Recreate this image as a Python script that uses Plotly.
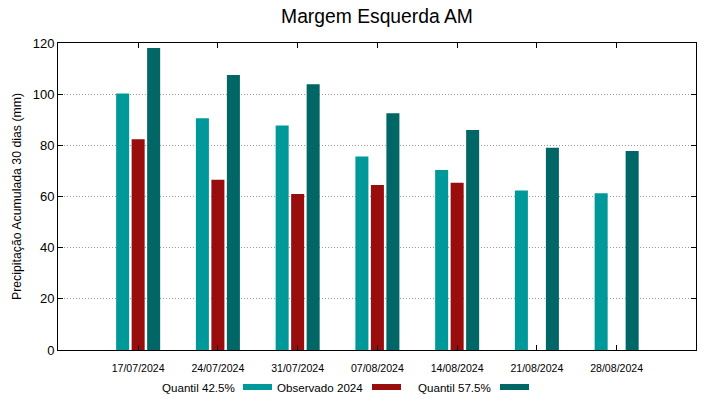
import plotly.graph_objects as go

dates = ["17/07/2024", "24/07/2024", "31/07/2024", "07/08/2024", "14/08/2024", "21/08/2024", "28/08/2024"]
q425 = [100.3, 90.6, 87.8, 75.6, 70.4, 62.3, 61.3]
obs2024 = [82.4, 66.5, 61.0, 64.5, 65.4, None, None]
q575 = [118.0, 107.5, 103.9, 92.5, 86.0, 79.1, 77.8]

names = ["Quantil 42.5%", "Observado 2024", "Quantil 57.5%"]
colors = ["#009999", "#990d0d", "#006666"]
series = [q425, obs2024, q575]

fig = go.Figure()
for n, c, s in zip(names, colors, series):
    fig.add_trace(go.Bar(x=list(range(len(dates))), y=s, name=n, marker_color=c,
                         marker_line_width=0, showlegend=False))

L, R, T, B = 58, 23, 43, 49
W, H = 719, 399
pw, ph = W - L - R, H - T - B

def px(x):
    return (x - L) / pw

def py(y):
    return (H - B - y) / ph

# custom gnuplot-style legend (text then swatch)
leg = [(237, 243, 272), (365, 372, 401), (493, 500, 529)]
for (tx, s0, s1), n, c in zip(leg, names, colors):
    fig.add_annotation(x=px(tx), y=py(387), xref="paper", yref="paper", text=n,
                       showarrow=False, xanchor="right", yanchor="middle",
                       font=dict(size=11.6, color="#000"))
    fig.add_shape(type="rect", xref="paper", yref="paper", x0=px(s0), x1=px(s1),
                  y0=py(390), y1=py(384), fillcolor=c, line_width=0)

fig.update_layout(
    width=W, height=H,
    margin=dict(l=L, r=R, t=T, b=B, autoexpand=False),
    barmode="group", bargap=0.417, bargroupgap=0.16,
    plot_bgcolor="white", paper_bgcolor="white",
    font=dict(family="Liberation Sans, Arial, sans-serif", color="#000"),
    title=dict(text="Margem Esquerda AM", xref="paper", x=px(377), xanchor="center",
               y=1 - 16 / H, yanchor="middle", font=dict(size=19.3)),
    xaxis=dict(range=[-1.005, 6.995], tickmode="array", tickvals=list(range(len(dates))),
               ticktext=dates, tickfont=dict(size=10.6), showline=True, linecolor="#000",
               linewidth=1, mirror="ticks", ticks="inside", ticklen=5, tickcolor="#000",
               ticklabelstandoff=8,
               showgrid=False, zeroline=False, automargin=False),
    yaxis=dict(range=[0, 120], tickvals=[0, 20, 40, 60, 80, 100, 120], tickfont=dict(size=13),
               showline=True, linecolor="#000", linewidth=1, mirror="ticks", ticks="inside",
               ticklen=5, tickcolor="#000", showgrid=True, gridcolor="#999999",
               griddash="1px,2px", gridwidth=1, zeroline=False, automargin=False,
               title=dict(text="Precipitação Acumulada 30 dias (mm)", font=dict(size=12.3), standoff=8)),
)

fig.write_html("out.html", config={"displayModeBar": False},
               post_script="document.body.style.margin='0';document.body.style.padding='0';")
